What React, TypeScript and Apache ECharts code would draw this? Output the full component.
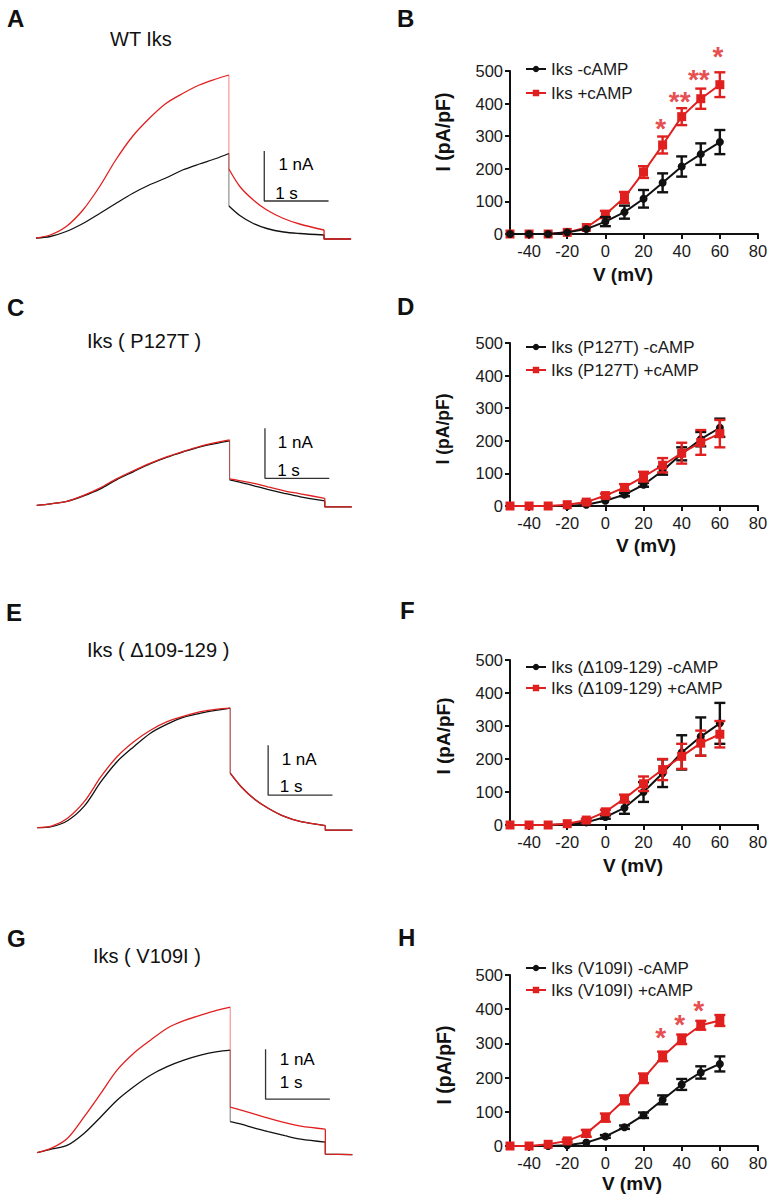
import { useEffect, useRef } from "react";
import * as echarts from "echarts";

const RED = "#e0201f";
const BLACK = "#111111";
const FONT = "'Liberation Sans', Arial, Helvetica, sans-serif";

// ---------- current traces (time in s, current in nA) ----------
const stepTimes = [0, 0.22, 0.47, 0.73, 0.99, 1.24, 1.5, 1.76, 2.02, 2.28, 2.54, 2.8, 3.0];
const tailTimes = [3.0, 3.17, 3.38, 3.59, 3.85, 4.1, 4.48];
const sweepEnd = 4.9;

const wtStepMinus = [0, 0.03, 0.13, 0.29, 0.49, 0.69, 0.89, 1.06, 1.2, 1.36, 1.48, 1.59, 1.69];
const wtStepPlus = [0, 0.06, 0.23, 0.56, 1.03, 1.56, 2.03, 2.39, 2.69, 2.89, 3.06, 3.18, 3.26];
const wtTailMinus = [0.64, 0.45, 0.29, 0.19, 0.12, 0.09, 0.06];
const wtTailPlus = [1.38, 1.03, 0.76, 0.56, 0.39, 0.28, 0.16];
const wtPost = [-0.02, -0.02];

const p127StepMinus = [0, 0.03, 0.08, 0.19, 0.33, 0.51, 0.67, 0.83, 0.96, 1.07, 1.17, 1.24, 1.29];
const p127StepPlus = [0, 0.03, 0.08, 0.2, 0.35, 0.53, 0.69, 0.84, 0.97, 1.08, 1.18, 1.26, 1.31];
const p127TailMinus = [0.51, 0.46, 0.39, 0.32, 0.24, 0.17, 0.09];
const p127TailPlus = [0.53, 0.49, 0.44, 0.37, 0.29, 0.23, 0.14];
const p127Post = [-0.03, -0.03];

const d109StepMinus = [0, 0.02, 0.14, 0.43, 0.92, 1.32, 1.62, 1.89, 2.07, 2.21, 2.29, 2.35, 2.39];
const d109StepPlus = [0, 0.03, 0.19, 0.52, 1.02, 1.42, 1.72, 1.95, 2.12, 2.23, 2.32, 2.37, 2.39];
const d109TailMinus = [1.09, 0.82, 0.57, 0.39, 0.22, 0.12, 0.04];
const d109TailPlus = [1.09, 0.82, 0.57, 0.39, 0.22, 0.12, 0.04];
const d109Post = [-0.05, -0.05];

const v109StepMinus = [0, 0.07, 0.15, 0.39, 0.72, 1.05, 1.32, 1.55, 1.72, 1.85, 1.95, 2.02, 2.05];
const v109StepPlus = [0, 0.09, 0.29, 0.72, 1.19, 1.65, 1.99, 2.25, 2.49, 2.64, 2.75, 2.85, 2.91];
const v109TailMinus = [0.62, 0.57, 0.49, 0.42, 0.34, 0.27, 0.21];
const v109TailPlus = [0.91, 0.85, 0.77, 0.69, 0.6, 0.53, 0.47];
const v109Post = [-0.03, -0.04];

// scale bars: 1 nA / 1 s
const scaleNA = 1;
const scaleS = 1;

// ---------- I-V data ----------
const voltages = [-50, -40, -30, -20, -10, 0, 10, 20, 30, 40, 50, 60];
const xTickValues = [-40, -20, 0, 20, 40, 60, 80];

const wtMinus = [0, 0, 0, 5, 15, 38, 67, 108, 157, 207, 245, 282];
const wtMinusErr = [0, 0, 0, 0, 0, 14, 20, 27, 29, 31, 33, 37];
const wtPlus = [0, 0, 0, 5, 20, 60, 112, 190, 273, 360, 415, 458];
const wtPlusErr = [0, 0, 0, 0, 0, 11, 17, 18, 26, 26, 31, 38];
const wtStarV = [30, 40, 50, 60];
const wtStarY = [344, 428, 494, 565];
const wtStarText = ["*", "**", "**", "*"];

const p127Minus = [0, 0, 0, 0, 4, 16, 35, 65, 108, 160, 205, 240];
const p127MinusErr = [0, 0, 0, 0, 0, 0, 5, 6, 12, 20, 22, 28];
const p127Plus = [0, 0, 0, 4, 12, 32, 57, 90, 125, 162, 195, 222];
const p127PlusErr = [0, 0, 0, 0, 4, 6, 10, 15, 22, 32, 38, 42];

const d109Minus = [0, 0, 0, 2, 8, 24, 52, 100, 157, 220, 268, 308];
const d109MinusErr = [0, 0, 0, 0, 0, 5, 18, 30, 42, 52, 58, 62];
const d109Plus = [0, 0, 0, 4, 15, 40, 80, 125, 168, 208, 248, 275];
const d109PlusErr = [0, 0, 0, 0, 4, 6, 12, 22, 32, 38, 38, 40];

const v109Minus = [0, 0, 0, 2, 10, 28, 55, 90, 135, 180, 215, 240];
const v109MinusErr = [0, 0, 0, 0, 0, 4, 5, 8, 13, 16, 18, 22];
const v109Plus = [0, 0, 5, 15, 37, 83, 135, 198, 262, 312, 353, 367];
const v109PlusErr = [0, 0, 0, 4, 10, 12, 13, 14, 14, 14, 13, 16];
const v109StarV = [30, 40, 50];
const v109StarY = [338, 377, 416];
const v109StarText = ["*", "*", "*"];

// ---------- layout ----------
const traceGrids = [
  { x0: 36, base: 238 },
  { x0: 36.7, base: 505.3 },
  { x0: 37.3, base: 827.7 },
  { x0: 37.3, base: 1152.7 },
];
const PX_PER_S = 64.3;
const PX_PER_NA = 50;
const TR_MIN = -0.3;
const TR_MAX = 3.5;

const ivGrids = [
  { left: 510, top: 71, height: 163 },
  { left: 510, top: 343, height: 163 },
  { left: 510, top: 660, height: 165 },
  { left: 510, top: 975, height: 171 },
];
const IV_WIDTH = 248;

// scale bar anchors (corner) and label offsets per trace panel
const scaleBars = [
  { t: 3.55, i: 0.74, naDt: 0.22, naDi: 0.74, sDt: 0.17, sDi: 0.16 },
  { t: 3.55, i: 0.54, naDt: 0.2, naDi: 0.72, sDt: 0.19, sDi: 0.15 },
  { t: 3.59, i: 0.65, naDt: 0.21, naDi: 0.72, sDt: 0.18, sDi: 0.17 },
  { t: 3.55, i: 1.07, naDt: 0.22, naDi: 0.79, sDt: 0.22, sDi: 0.33 },
];

function traceSeries(g: number, color: string, step: number[], tail: number[], post: number[], z: number) {
  const common: any = {
    type: "line",
    xAxisIndex: g,
    yAxisIndex: g,
    symbol: "none",
    showSymbol: false,
    silent: true,
    clip: false,
    z,
    lineStyle: { color, width: 1.3 },
  };
  const last = tailTimes.length - 1;
  return [
    { ...common, smooth: 0.3, data: stepTimes.map((t, i) => [t, step[i]]) },
    { ...common, smooth: 0.3, data: tailTimes.map((t, i) => [t, tail[i]]) },
    {
      ...common,
      lineStyle: { color, width: 0.8, opacity: 0.7 },
      data: [
        [stepTimes[stepTimes.length - 1], step[step.length - 1]],
        [tailTimes[0], tail[0]],
      ],
    },
    {
      ...common,
      data: [
        [tailTimes[last], tail[last]],
        [tailTimes[last], post[0]],
        [sweepEnd, post[1]],
      ],
    },
  ];
}

function scaleBarSeries(g: number) {
  const sb = scaleBars[g];
  return [
    {
      type: "line",
      xAxisIndex: g,
      yAxisIndex: g,
      symbol: "none",
      silent: true,
      clip: false,
      lineStyle: { color: "#333", width: 1.3 },
      data: [
        [sb.t, sb.i + scaleNA],
        [sb.t, sb.i],
        [sb.t + scaleS, sb.i],
      ],
    },
    {
      type: "scatter",
      xAxisIndex: g,
      yAxisIndex: g,
      symbolSize: 0,
      silent: true,
      clip: false,
      data: [
        [sb.t + sb.naDt, sb.i + sb.naDi],
        [sb.t + sb.sDt, sb.i + sb.sDi],
      ],
      label: {
        show: true,
        position: "right",
        distance: 0,
        color: "#000",
        opacity: 1,
        fontSize: 17,
        fontFamily: FONT,
        formatter: (p: any) => (p.dataIndex === 0 ? "1 nA" : "1 s"),
      },
    },
  ];
}

function ivSeries(g: number, name: string, values: number[], errs: number[], color: string, symbol: string, size: number, z: number) {
  return [
    {
      type: "line",
      name,
      xAxisIndex: g,
      yAxisIndex: g,
      clip: false,
      symbol,
      symbolSize: size,
      showSymbol: true,
      z,
      lineStyle: { color, width: 2 },
      itemStyle: { color },
      data: voltages.map((v, i) => [v, values[i]]),
    },
    {
      type: "custom",
      xAxisIndex: g,
      yAxisIndex: g,
      clip: false,
      silent: true,
      z: z + 1,
      encode: { x: 0, y: 1 },
      data: voltages.map((v, i) => [v, values[i], errs[i]]).filter((d) => d[2] > 0),
      renderItem: (params: any, api: any) => {
        const x = api.value(0);
        const y = api.value(1);
        const e = api.value(2);
        const top = api.coord([x, y + e]);
        const bot = api.coord([x, y - e]);
        const hw = 5.5;
        const style = { stroke: color, lineWidth: 2.4 };
        return {
          type: "group",
          children: [
            { type: "line", shape: { x1: top[0], y1: top[1], x2: bot[0], y2: bot[1] }, style },
            { type: "line", shape: { x1: top[0] - hw, y1: top[1], x2: top[0] + hw, y2: top[1] }, style },
            { type: "line", shape: { x1: bot[0] - hw, y1: bot[1], x2: bot[0] + hw, y2: bot[1] }, style },
          ],
        };
      },
    },
  ];
}

function starSeries(g: number, vs: number[], ys: number[], texts: string[]) {
  return {
    type: "scatter",
    xAxisIndex: g,
    yAxisIndex: g,
    symbolSize: 0,
    silent: true,
    clip: false,
    z: 10,
    data: vs.map((v, i) => [v, ys[i]]),
    label: {
      show: true,
      position: "inside",
      offset: [-2, 7],
      color: RED,
      fontSize: 28,
      fontWeight: "bold",
      fontFamily: FONT,
      formatter: (p: any) => texts[p.dataIndex],
    },
  };
}

function txt(text: string, x: number, y: number, size: number, weight: string, align: string, rotation = 0) {
  return {
    type: "text",
    x,
    y,
    rotation,
    silent: true,
    style: {
      text,
      fill: "#111",
      font: `${weight} ${size}px ${FONT}`,
      fontSize: size,
      fontWeight: weight,
      fontFamily: FONT,
      align,
      textAlign: align,
      verticalAlign: "middle",
      textVerticalAlign: "middle",
    },
  };
}

export default function App() {
  const ref = useRef<HTMLDivElement>(null);

  useEffect(() => {
    if (!ref.current) return;
    const chart = echarts.init(ref.current, undefined, { renderer: "svg" });

    const grids: any[] = [];
    const xAxes: any[] = [];
    const yAxes: any[] = [];

    traceGrids.forEach((tg, i) => {
      grids.push({
        left: tg.x0,
        top: tg.base - TR_MAX * PX_PER_NA,
        width: sweepEnd * PX_PER_S,
        height: (TR_MAX - TR_MIN) * PX_PER_NA,
        containLabel: false,
      });
      xAxes.push({ gridIndex: i, type: "value", min: 0, max: sweepEnd, show: false });
      yAxes.push({ gridIndex: i, type: "value", min: TR_MIN, max: TR_MAX, show: false });
    });

    const axisColor = "#111";
    ivGrids.forEach((ig, k) => {
      const i = k + 4;
      grids.push({ left: ig.left, top: ig.top, width: IV_WIDTH, height: ig.height, containLabel: false });
      xAxes.push({
        gridIndex: i,
        type: "value",
        min: -50,
        max: 80,
        axisLine: { show: true, onZero: false, lineStyle: { color: axisColor, width: 2 } },
        axisTick: { show: true, customValues: xTickValues, length: 5, lineStyle: { color: axisColor, width: 2 } },
        axisLabel: { show: true, customValues: xTickValues, margin: 8, fontSize: 16.5, color: "#1a1a1a", fontFamily: FONT },
        splitLine: { show: false },
      });
      yAxes.push({
        gridIndex: i,
        type: "value",
        min: 0,
        max: 500,
        interval: 100,
        axisLine: { show: true, onZero: false, lineStyle: { color: axisColor, width: 2 } },
        axisTick: { show: true, length: 5, lineStyle: { color: axisColor, width: 2 } },
        axisLabel: { show: true, margin: 7, fontSize: 16.5, color: "#1a1a1a", fontFamily: FONT },
        splitLine: { show: false },
      });
    });

    const series: any[] = [
      ...traceSeries(0, BLACK, wtStepMinus, wtTailMinus, wtPost, 2),
      ...traceSeries(0, RED, wtStepPlus, wtTailPlus, wtPost, 3),
      ...traceSeries(1, BLACK, p127StepMinus, p127TailMinus, p127Post, 2),
      ...traceSeries(1, RED, p127StepPlus, p127TailPlus, p127Post, 3),
      ...traceSeries(2, BLACK, d109StepMinus, d109TailMinus, d109Post, 2),
      ...traceSeries(2, RED, d109StepPlus, d109TailPlus, d109Post, 3),
      ...traceSeries(3, BLACK, v109StepMinus, v109TailMinus, v109Post, 2),
      ...traceSeries(3, RED, v109StepPlus, v109TailPlus, v109Post, 3),
      ...scaleBarSeries(0),
      ...scaleBarSeries(1),
      ...scaleBarSeries(2),
      ...scaleBarSeries(3),
      ...ivSeries(4, "Iks +cAMP", wtPlus, wtPlusErr, RED, "rect", 9, 2),
      ...ivSeries(4, "Iks -cAMP", wtMinus, wtMinusErr, BLACK, "circle", 8, 4),
      starSeries(4, wtStarV, wtStarY, wtStarText),
      ...ivSeries(5, "Iks (P127T) -cAMP", p127Minus, p127MinusErr, BLACK, "circle", 8, 2),
      ...ivSeries(5, "Iks (P127T) +cAMP", p127Plus, p127PlusErr, RED, "rect", 9, 4),
      ...ivSeries(6, "Iks (Δ109-129) -cAMP", d109Minus, d109MinusErr, BLACK, "circle", 8, 2),
      ...ivSeries(6, "Iks (Δ109-129) +cAMP", d109Plus, d109PlusErr, RED, "rect", 9, 4),
      ...ivSeries(7, "Iks (V109I) -cAMP", v109Minus, v109MinusErr, BLACK, "circle", 8, 2),
      ...ivSeries(7, "Iks (V109I) +cAMP", v109Plus, v109PlusErr, RED, "rect", 9, 4),
      starSeries(7, v109StarV, v109StarY, v109StarText),
    ];

    const legendBase = {
      orient: "vertical",
      left: 525,
      padding: 0,
      itemWidth: 20,
      itemHeight: 8,
      selectedMode: false,
      textStyle: { fontSize: 17, color: "#1a1a1a", fontFamily: FONT, lineHeight: 20 },
    };
    const legends = [
      { ...legendBase, top: 59, itemGap: 4, data: ["Iks -cAMP", "Iks +cAMP"] },
      { ...legendBase, top: 337, itemGap: 3, data: ["Iks (P127T) -cAMP", "Iks (P127T) +cAMP"] },
      { ...legendBase, top: 657, itemGap: 1, data: ["Iks (Δ109-129) -cAMP", "Iks (Δ109-129) +cAMP"] },
      { ...legendBase, top: 958, itemGap: 2, data: ["Iks (V109I) -cAMP", "Iks (V109I) +cAMP"] },
    ];

    const graphic: any[] = [
      txt("A", 7, 18, 24, "bold", "left"),
      txt("B", 397, 18, 24, "bold", "left"),
      txt("C", 7, 307, 24, "bold", "left"),
      txt("D", 397, 306, 24, "bold", "left"),
      txt("E", 6, 612, 24, "bold", "left"),
      txt("F", 400, 610, 24, "bold", "left"),
      txt("G", 7, 938, 24, "bold", "left"),
      txt("H", 398, 937, 24, "bold", "left"),
      txt("WT Iks", 110, 39, 20, "normal", "left"),
      txt("Iks ( P127T )", 87, 341, 20, "normal", "left"),
      txt("Iks ( Δ109-129 )", 87, 650, 20, "normal", "left"),
      txt("Iks ( V109I )", 93, 956, 20, "normal", "left"),
      txt("I (pA/pF)", 443, 132, 19.5, "bold", "center", Math.PI / 2),
      txt("I (pA/pF)", 443, 429, 17.5, "bold", "center", Math.PI / 2),
      txt("I (pA/pF)", 443, 736, 19, "bold", "center", Math.PI / 2),
      txt("I (pA/pF)", 444, 1065, 19.5, "bold", "center", Math.PI / 2),
      txt("V (mV)", 623, 274, 19, "bold", "center"),
      txt("V (mV)", 646, 545, 19, "bold", "center"),
      txt("V (mV)", 633, 865, 19, "bold", "center"),
      txt("V (mV)", 632, 1183, 19, "bold", "center"),
    ];

    chart.setOption({
      animation: false,
      backgroundColor: "#ffffff",
      textStyle: { fontFamily: FONT },
      grid: grids,
      xAxis: xAxes,
      yAxis: yAxes,
      legend: legends,
      series,
      graphic,
    });

    return () => chart.dispose();
  }, []);

  return (
    <div
      ref={ref}
      style={{ position: "absolute", left: 0, top: 0, width: 775, height: 1202, background: "#fff" }}
    />
  );
}
